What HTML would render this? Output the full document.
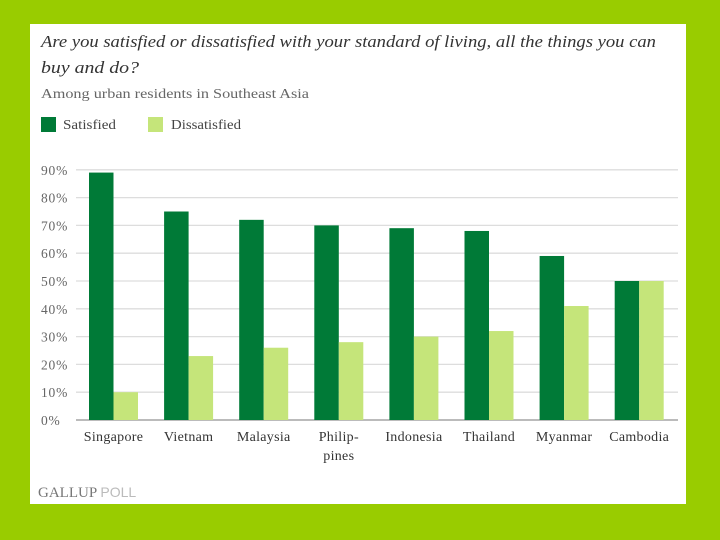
<!DOCTYPE html>
<html><head><meta charset="utf-8"><style>
body{margin:0;width:720px;height:540px;background:#99cc00;overflow:hidden;font-family:"Liberation Serif",serif}
#panel{position:absolute;left:30px;top:24px;width:656px;height:480px;background:#fff}
</style></head><body>
<div id="panel"></div>
<svg id="c" width="720" height="540" style="position:absolute;left:0;top:0">
<text x="41" y="47" font-size="17" font-style="italic" fill="#333" textLength="615" lengthAdjust="spacingAndGlyphs">Are you satisfied or dissatisfied with your standard of living, all the things you can</text>
<text x="41" y="73" font-size="17" font-style="italic" fill="#333" textLength="98" lengthAdjust="spacingAndGlyphs">buy and do?</text>
<text x="41" y="98" font-size="13.5" fill="#666" textLength="268" lengthAdjust="spacingAndGlyphs">Among urban residents in Southeast Asia</text>
<rect x="41" y="117" width="15" height="15" fill="#007a37"/>
<text x="63" y="129" font-size="13.5" fill="#444" textLength="53" lengthAdjust="spacingAndGlyphs">Satisfied</text>
<rect x="148" y="117" width="15" height="15" fill="#c5e57a"/>
<text x="171" y="129" font-size="13.5" fill="#444" textLength="70" lengthAdjust="spacingAndGlyphs">Dissatisfied</text>
<g id="grid"></g><g id="bars"></g><g id="labels"></g>
<text x="38" y="497" font-size="15" fill="#777">GALLUP <tspan fill="#bbb" font-family="Liberation Sans, sans-serif" font-size="14">POLL</tspan></text>
</svg>
<script>
const categories=["Singapore","Vietnam","Malaysia","Philip-|pines","Indonesia","Thailand","Myanmar","Cambodia"];
const satisfied=[89,75,72,70,69,68,59,50];
const dissatisfied=[10,23,26,28,30,32,41,50];
const ticks=[0,10,20,30,40,50,60,70,80,90];
const NS="http://www.w3.org/2000/svg";
const y=v=>420-v*2.78;
const gx=i=>89+i*75.1;
function mk(t,a,p){const e=document.createElementNS(NS,t);for(const k in a)e.setAttribute(k,a[k]);p.appendChild(e);return e;}
const G=document.getElementById('grid'),B=document.getElementById('bars'),L=document.getElementById('labels');
ticks.forEach(t=>{
 const l=mk('line',{x1:76,x2:678,y1:y(t),y2:y(t),stroke:t===0?'#bbb':'#ddd','stroke-width':t===0?2:1.3},G);
 
 
 const tx=mk('text',{x:41,y:y(t)+5,'font-size':13.5,fill:'#666','letter-spacing':'0.8'},G);
 tx.textContent=t+'%';
 
 
});
categories.forEach((c,i)=>{
 const x=gx(i);
 const r1=mk('rect',{x:x,y:y(satisfied[i]),width:24.5,height:y(0)-y(satisfied[i]),fill:'#007a37'},B);
 
 
 const r2=mk('rect',{x:x+24.5,y:y(dissatisfied[i]),width:24.5,height:y(0)-y(dissatisfied[i]),fill:'#c5e57a'},B);
 
 
 c.split('|').forEach((s,j)=>{
  const t=mk('text',{x:x+24.5,y:441+j*19,'font-size':14,fill:'#333','text-anchor':'middle','letter-spacing':'0.3'},L);
  t.textContent=s;
  
  
 });
});
</script>
</body></html>
